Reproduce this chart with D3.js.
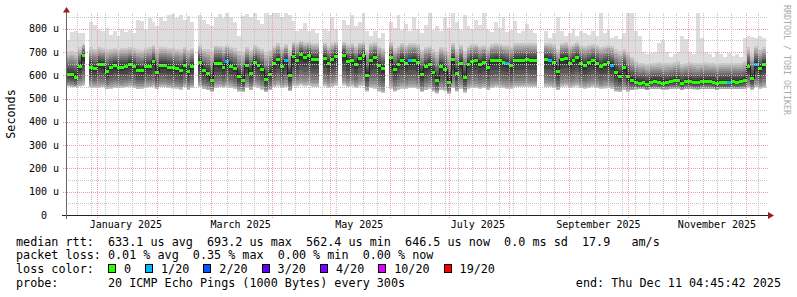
<!DOCTYPE html>
<html>
<head>
<meta charset="utf-8">
<script src="https://cdn.jsdelivr.net/npm/d3@7"></script>
<style>
  body { margin: 0; background: #fff; }
  text { font-family: "DejaVu Sans Mono", monospace; white-space: pre; }
</style>
</head>
<body>
<svg id="chart" width="797" height="297"></svg>
<script>
// time window: last 360 days, 2-day consolidated bins
const endTime = new Date(2025, 11, 11, 4, 45, 42);
const spanDays = 360;
const binDays = 2;

// median rtt per bin (microseconds), null = no data
const median = [
  606,604,595,640,686,null,638,630,650,648,619,637,643,638,638,640,649,641,625,621,
  641,641,660,615,646,645,638,634,630,621,645,619,640,null,659,621,609,580,655,652,
  635,660,641,630,598,581,645,612,657,645,627,585,606,652,670,641,664,602,684,665,
  691,680,688,670,670,null,674,652,670,684,null,688,660,667,648,674,688,602,665,679,
  646,631,null,679,628,651,667,655,664,667,657,605,640,650,614,581,640,628,573,670,
  611,655,595,651,663,665,651,657,636,664,667,664,657,655,643,667,667,667,670,667,
  667,null,null,670,667,659,617,670,674,652,665,677,655,645,656,664,652,640,650,659,
  645,614,599,635,598,581,573,568,573,563,573,574,573,569,571,575,579,581,568,576,
  577,572,570,575,576,575,573,567,573,573,573,574,573,575,581,640,590,651,630,648
];
// lowest ping (bottom of smoke)
const smokeLow = [
  552,550,548,552,555,null,548,545,546,548,540,542,546,544,546,548,550,545,540,542,
  546,548,550,540,548,548,545,543,540,538,548,536,545,null,548,540,535,530,546,548,
  545,550,546,540,530,528,545,536,550,545,538,528,535,548,552,545,550,532,555,552,
  556,552,555,550,550,null,552,545,550,555,null,556,548,552,545,552,555,530,545,540,
  530,525,null,540,530,538,542,540,545,545,540,528,535,540,530,522,535,532,520,545,
  530,540,525,540,545,545,540,545,535,545,548,546,545,542,540,548,548,548,550,548,
  548,null,null,550,548,545,535,550,552,545,548,552,545,540,545,548,545,540,543,545,
  540,530,528,535,530,535,538,540,540,536,540,540,540,538,538,540,541,541,536,540,
  540,539,538,540,540,540,540,536,540,540,540,540,540,540,542,545,538,548,540,546
];
// upper edge of the dense smoke
const smokeUp = [
  700,705,700,720,735,null,720,715,720,718,712,715,718,715,716,718,722,718,712,710,
  718,720,730,712,722,722,718,716,715,712,722,710,718,null,730,715,712,705,728,728,
  720,732,722,716,705,700,722,710,730,722,715,700,708,728,738,722,735,708,745,738,
  748,742,745,738,738,null,740,728,738,745,null,745,735,740,728,740,745,710,738,742,
  725,718,null,742,716,728,738,732,738,740,735,710,722,728,712,700,722,716,700,738,
  712,732,705,728,735,736,728,732,720,735,738,736,732,730,726,738,738,738,740,738,
  738,null,null,740,738,735,712,740,742,730,736,742,730,725,730,735,730,722,728,732,
  725,712,705,715,700,680,662,655,652,648,652,655,656,652,652,655,658,660,650,655,
  656,652,652,655,656,655,654,650,654,654,654,655,654,655,660,720,690,725,712,720
];
// highest ping (top of light smoke)
const smokeHigh = [
  752,788,790,782,780,null,830,815,800,790,805,775,790,770,800,785,795,780,840,835,
  800,845,830,810,850,835,860,865,845,860,840,855,830,null,860,840,820,810,850,865,
  845,868,850,830,770,855,865,850,868,840,820,868,860,868,868,850,868,860,835,790,
  800,825,790,800,780,null,800,790,850,800,null,840,815,860,810,830,868,790,770,790,
  760,780,null,830,805,860,795,820,790,850,800,780,815,868,795,810,790,845,805,868,
  830,795,860,810,800,840,815,868,795,785,830,805,850,785,795,835,780,790,820,795,
  780,null,null,790,760,780,850,790,770,780,800,770,790,780,775,790,770,868,780,800,
  760,770,755,780,868,868,790,770,700,690,695,700,740,750,700,680,690,700,770,755,
  700,690,868,760,700,690,680,700,690,680,695,685,690,680,760,770,765,760,770,760
];
// packet loss per bin (%)
const lossPct = [
  0,0,0,0,0,null,0,0,0,0,0,0,0,0,0,0,0,0,0,0,
  0,0,0,0,0,0,0,0,0,0,0,0,0,null,0,0,0,0,0,0,
  0,0.25,0,0,0,0,0,0,0,0,0,0,0,0,0,0,0.35,0,0,0,
  0,0,0,0,0,null,0,0,0,0,null,0,0,0,0,0,0,0,0,0,
  0,0,null,0,0,0,0,0,0.15,0,0,0,0,0,0,0,0,0,0,0,
  0,0,0,0,0,0,0,0,0,0,0,0,0,0.25,0,0,0,0,0,0,
  0,null,null,0,0.2,0,0,0,0,0,0,0,0,0,0,0,0,0,0,0,
  0.3,0,0,0,0,0,0,0,0,0,0,0,0,0,0,0,0,0,0,0,
  0,0,0,0,0,0,0,0,0,0,0.1,0,0,0,0,0,0,0.2,0,0
];

const lossLabels = ["0", "1/20", "2/20", "3/20", "4/20", "10/20", "19/20"];
const lossLimits = [0, 1, 2, 3, 4, 10, 19];
const lossColors = ["#26ff00", "#00b8ff", "#0059ff", "#5e00ff", "#7e00ff", "#dd00ff", "#ff0000"];

const yMajor = [100, 200, 300, 400, 500, 600, 700, 800];
const yMinor = [50, 150, 250, 350, 450, 550, 650, 750, 850];
const yLabels = [0, 100, 200, 300, 400, 500, 600, 700, 800];

const legendRtt = "median rtt:  633.1 us avg  693.2 us max  562.4 us min  646.5 us now  0.0 ms sd  17.9   am/s";
const legendLoss = "packet loss: 0.01 % avg  0.35 % max  0.00 % min  0.00 % now";
const legendProbe = "probe:       20 ICMP Echo Pings (1000 Bytes) every 300s";
const legendEnd = "end: Thu Dec 11 04:45:42 2025";

// ---------------------------------------------------------------
const svg = d3.select("#chart");
svg.append("rect").attr("width", 797).attr("height", 297).attr("fill", "#fff");

const day = 864e5;
const startTime = new Date(+endTime - spanDays * day);
const x = d3.scaleTime().domain([startTime, endTime]).range([66, 766]);
const y = d3.scaleLinear().domain([0, 868]).range([215, 13]);
const px = v => Math.round(v) + 0.5;

const bins = median.map((m, i) => ({
  t0: new Date(+startTime + i * binDays * day),
  t1: new Date(+startTime + (i + 1) * binDays * day),
  med: m, lo: smokeLow[i], up: smokeUp[i], hi: smokeHigh[i], loss: lossPct[i]
}));
const steps = bins.flatMap(b => [{ ...b, t: b.t0 }, { ...b, t: b.t1 }]);

svg.append("defs").append("clipPath").attr("id", "clip")
  .append("rect").attr("x", 66).attr("y", 13).attr("width", 700).attr("height", 202);

const plot = svg.append("g").attr("clip-path", "url(#clip)");

// smoke: 10 layers, outer = light, inner = dark
d3.range(10).forEach(k => {
  const f = (k / 10) ** 2;
  const g = k === 0 ? 0 : (k - 1) / 9;
  const shade = 221 - 19 * k;
  const area = d3.area()
    .defined(d => d.med != null)
    .x(d => x(d.t))
    .y0(d => y(d.lo + (d.med - d.lo) * f))
    .y1(d => k === 0 ? y(d.hi) : y(d.up - (d.up - d.med) * g));
  plot.append("path").datum(steps)
    .attr("d", area)
    .attr("fill", d3.rgb(shade, shade, shade))
    .attr("shape-rendering", "crispEdges");
});

// grid
const grid = svg.append("g");
const months = d3.timeMonth.range(startTime, endTime);
const weeks = d3.timeSunday.range(startTime, endTime)
  .filter(w => !months.some(m => Math.abs(x(m) - x(w)) < 2));

grid.selectAll(".vmin").data(weeks).join("line")
  .attr("x1", d => px(x(d))).attr("x2", d => px(x(d)))
  .attr("y1", 13).attr("y2", 215)
  .attr("stroke", "#c4c4c4").attr("stroke-dasharray", "1,1");
grid.selectAll(".hmin").data(yMinor).join("line")
  .attr("x1", 66).attr("x2", 768)
  .attr("y1", d => px(y(d))).attr("y2", d => px(y(d)))
  .attr("stroke", "#c4c4c4").attr("stroke-dasharray", "1,1");
grid.selectAll(".vmaj").data(months).join("line")
  .attr("x1", d => px(x(d))).attr("x2", d => px(x(d)))
  .attr("y1", 13).attr("y2", 218)
  .attr("stroke", "#f0a0a0").attr("stroke-dasharray", "1,1");
grid.selectAll(".hmaj").data(yMajor).join("line")
  .attr("x1", 63).attr("x2", 768)
  .attr("y1", d => px(y(d))).attr("y2", d => px(y(d)))
  .attr("stroke", "#f0a0a0").attr("stroke-dasharray", "1,1");

// median line and loss coloured blocks
plot.append("path").datum(steps)
  .attr("d", d3.line().defined(d => d.med != null).x(d => x(d.t)).y(d => px(y(d.med))))
  .attr("fill", "none").attr("stroke", "#202020").attr("stroke-width", 1)
  .attr("shape-rendering", "crispEdges");

const lossIndex = p => {
  const pings = p / 100 * 20;
  if (pings <= 0) return 0;
  const i = lossLimits.findIndex((l, j) => j > 0 && pings <= l);
  return i < 0 ? lossLimits.length - 1 : i;
};
plot.selectAll(".med").data(bins.filter(b => b.med != null)).join("rect")
  .attr("x", d => Math.round(x(d.t0)))
  .attr("width", d => Math.round(x(d.t1)) - Math.round(x(d.t0)))
  .attr("y", d => Math.round(y(d.med)) - 1)
  .attr("height", 3)
  .attr("fill", d => lossColors[lossIndex(d.loss)])
  .attr("shape-rendering", "crispEdges");

// axes
svg.append("line").attr("x1", 62).attr("x2", 768).attr("y1", 215.5).attr("y2", 215.5)
  .attr("stroke", "#222");
svg.append("line").attr("x1", 66.5).attr("x2", 66.5).attr("y1", 219).attr("y2", 12)
  .attr("stroke", "#666");
svg.append("path").attr("d", "M63,12.5L70,12.5L66.5,7Z").attr("fill", "#9c1c1c");
svg.append("path").attr("d", "M768,212L768,219L774,215.5Z").attr("fill", "#9c1c1c");

// y labels
svg.selectAll(".ylab").data(yLabels).join("text")
  .attr("x", d => d === 0 ? 47 : 59)
  .attr("y", d => y(d) + 3.5)
  .attr("text-anchor", "end")
  .attr("font-size", 10)
  .text(d => d === 0 ? "0" : d + " u");

// x labels, centred on the middle of every other month
const labelMonths = d3.timeMonth.every(2).range(startTime, endTime);
svg.selectAll(".xlab").data(labelMonths).join("text")
  .attr("x", d => x(d3.timeDay.offset(d, 15)))
  .attr("y", 228)
  .attr("text-anchor", "middle")
  .attr("font-size", 10)
  .text(d => d3.timeFormat("%B %Y")(d));

const fs = 11.75;
const cw = fs * 0.602;
svg.append("text")
  .attr("transform", "translate(15,114) rotate(-90)")
  .attr("text-anchor", "middle")
  .attr("font-size", fs)
  .text("Seconds");

svg.append("text")
  .attr("transform", "translate(784,5) rotate(90)")
  .attr("font-size", 8.3)
  .attr("fill", "#aaa")
  .text("RRDTOOL / TOBI OETIKER");

// legend
const lx = 16;
svg.append("text").attr("x", lx).attr("y", 245.5).attr("font-size", fs).text(legendRtt);
svg.append("text").attr("x", lx).attr("y", 259).attr("font-size", fs).text(legendLoss);
svg.append("text").attr("x", lx).attr("y", 273).attr("font-size", fs).text("loss color:");
svg.append("text").attr("x", lx).attr("y", 287).attr("font-size", fs).text(legendProbe);
svg.append("text").attr("x", 781).attr("y", 287).attr("font-size", fs)
  .attr("text-anchor", "end").text(legendEnd);

let bx = lx + 13 * cw;
lossLabels.forEach((lab, i) => {
  svg.append("rect")
    .attr("x", Math.round(bx) + 0.5).attr("y", 264.5)
    .attr("width", 7).attr("height", 8)
    .attr("fill", lossColors[i]).attr("stroke", "#000");
  svg.append("text").attr("x", bx + 16).attr("y", 273).attr("font-size", fs).text(lab);
  bx = bx + 16 + lab.length * cw + 14;
});
</script>
</body>
</html>
